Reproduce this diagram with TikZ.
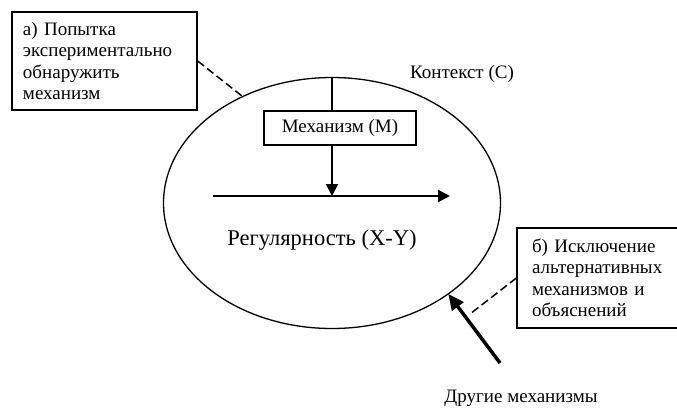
\documentclass[tikz,border=0pt]{standalone}
\usepackage{fontspec}
\setmainfont{Liberation Serif}
\usetikzlibrary{arrows.meta,shapes.geometric}

\begin{document}
\begin{tikzpicture}[x=1pt, y=-1pt,
  >={Triangle[length=12pt,width=12pt]},
  notebox/.style={draw, line width=1.3pt, align=left, inner xsep=11pt, inner ysep=0pt, font=\fontsize{19}{21.5}\selectfont},
  txt/.style={font=\fontsize{19}{21.5}\selectfont},
  dashline/.style={draw, line width=1.5pt, dash pattern=on 8pt off 4pt}]
\useasboundingbox (0,0) rectangle (677,407);

% context
\node[draw, ellipse, line width=1.3pt, minimum width=337pt, minimum height=251pt, inner sep=0pt, outer sep=0pt] (C) at (332,203) {};
\node[txt] (ctx) at (462,74) {Контекст (С)};

% mechanism and regularity
\node[draw, line width=1.3pt, minimum width=152pt, minimum height=34pt, inner sep=0pt, txt] (M) at (340,128) {Механизм (М)};
\coordinate (X) at (213,196);
\coordinate (Y) at (450,196);
\path[draw, line width=2pt, ->] (X) -- (Y);
\path[draw, line width=2pt] (C.north) -- (C.north |- M.north);
\path[draw, line width=2pt, ->] (C.north |- M.south) -- (C.north |- X);
\node[font=\fontsize{22.5}{26}\selectfont] (XY) at (322,240) {Регулярность (X-Y)};

% notes
\node[notebox, text width=163pt, minimum height=98pt] (a) at (104.5,61) {а) Попытка\\экспериментально\\обнаружить\\механизм};
\node[notebox, inner xsep=15pt, text width=143pt, minimum height=100pt] (b) at (603.5,278) {б) Исключение\\альтернативных\\механизмов и\\объяснений};
\path[dashline] (a.east) -- (C.130);
\coordinate (bend) at (470,314);
\path[dashline] (b.west) -- (bend);

% other mechanisms
\node[txt] (oth) at (521,398) {Другие механизмы};
\coordinate (tail) at (500,363);
\path[draw, line width=3.5pt, -{Triangle[length=16pt,width=14pt]}] (tail) -- (C.-38);
\end{tikzpicture}
\end{document}
